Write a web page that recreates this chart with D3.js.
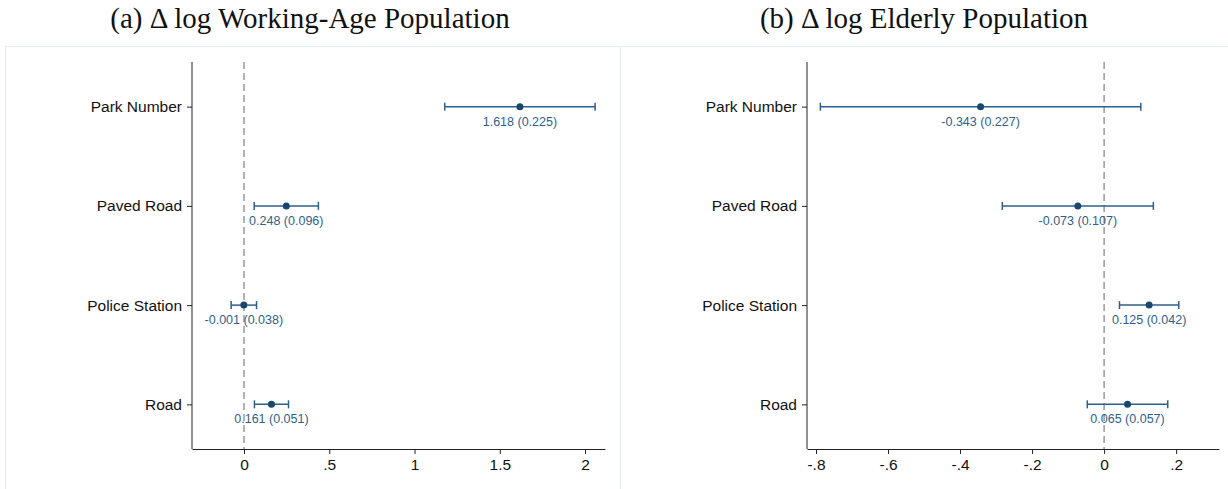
<!DOCTYPE html>
<html><head><meta charset="utf-8">
<script src="https://cdn.jsdelivr.net/npm/d3@7"></script>
<style>body{margin:0;background:#fff;} svg{display:block;}</style>
</head><body>
<svg id="c" width="1228" height="489"></svg>
<script>
const categories = ["Park Number", "Paved Road", "Police Station", "Road"];
const coefWorking = [1.618, 0.248, -0.001, 0.161];
const seWorking = [0.225, 0.096, 0.038, 0.051];
const coefElderly = [-0.343, -0.073, 0.125, 0.065];
const seElderly = [0.227, 0.107, 0.042, 0.057];
const ticksWorking = [0, 0.5, 1, 1.5, 2];
const ticksElderly = [-0.8, -0.6, -0.4, -0.2, 0, 0.2];
const titles = ["(a) \u0394\u2009log Working-Age Population", "(b) \u0394\u2009log Elderly Population"];

const svg = d3.select("#c");
const fmtTick = v => v === 0 ? "0" : String(+v.toFixed(2)).replace(/^(-?)0\./, "$1.");
const fmt3 = v => (v < 0 ? "-" : "") + Math.abs(v).toFixed(3);

function panel(cfg) {
  const g = svg.append("g");
  g.append("rect").attr("x", cfg.bx).attr("y", 46.5).attr("width", cfg.bw).attr("height", 460)
    .attr("fill", "#fff").attr("stroke", "#e6edf1").attr("stroke-width", 1);
  g.append("text").attr("x", cfg.tx).attr("y", 28).attr("text-anchor", "middle")
    .attr("font-family", "'Liberation Serif', 'DejaVu Serif', serif").attr("font-size", 29)
    .attr("fill", "#111").text(cfg.title);

  const x = d3.scaleLinear().domain(cfg.domain).range([cfg.x0, cfg.x1]);
  const y = d3.scalePoint().domain(categories).range([62, 449]).padding(0.45);

  const xa = g.append("g").attr("transform", "translate(0,449)")
    .call(d3.axisBottom(x).tickValues(cfg.ticks).tickSize(5).tickPadding(5).tickFormat(fmtTick).tickSizeOuter(0));
  xa.select(".domain").attr("stroke", "#222");
  xa.selectAll(".tick line").attr("stroke", "#222");
  xa.selectAll("text").attr("font-family", "'Liberation Sans', Arial, sans-serif").attr("font-size", 15.5).attr("fill", "#111");

  const ya = g.append("g").attr("transform", `translate(${cfg.x0},0)`)
    .call(d3.axisLeft(y).tickSize(5).tickPadding(5).tickSizeOuter(0));
  ya.select(".domain").attr("d", `M0,62V449`).attr("stroke", "#222");
  ya.selectAll(".tick line").attr("stroke", "#222");
  ya.selectAll("text").attr("font-family", "'Liberation Sans', Arial, sans-serif").attr("font-size", 15.5).attr("fill", "#111");

  g.append("line").attr("x1", x(0)).attr("x2", x(0)).attr("y1", 62).attr("y2", 449)
    .attr("stroke", "#999").attr("stroke-width", 1.5).attr("stroke-dasharray", "7,4");

  const data = categories.map((c, i) => ({c, b: cfg.coef[i], se: cfg.se[i]}));
  const col = "#1a476f", lcol = "#2f5f8a";
  const rows = g.selectAll(".row").data(data).enter().append("g");
  rows.append("line").attr("x1", d => x(d.b - 1.96 * d.se)).attr("x2", d => x(d.b + 1.96 * d.se))
    .attr("y1", d => y(d.c)).attr("y2", d => y(d.c)).attr("stroke", lcol).attr("stroke-width", 1.5);
  [-1, 1].forEach(s => {
    rows.append("line").attr("x1", d => x(d.b + s * 1.96 * d.se)).attr("x2", d => x(d.b + s * 1.96 * d.se))
      .attr("y1", d => y(d.c) - 4).attr("y2", d => y(d.c) + 4).attr("stroke", lcol).attr("stroke-width", 1.5);
  });
  rows.append("circle").attr("cx", d => x(d.b)).attr("cy", d => y(d.c)).attr("r", 3.5).attr("fill", col);
  rows.append("text").attr("x", d => x(d.b)).attr("y", d => y(d.c) + 19).attr("text-anchor", "middle")
    .attr("font-family", "'Liberation Sans', Arial, sans-serif").attr("font-size", 12.5).attr("fill", "#2f5f8a")
    .text(d => fmt3(d.b) + " (" + fmt3(d.se) + ")");
}

panel({bx: 5.5, bw: 615, tx: 310, title: titles[0], domain: [-0.305, 2.117], x0: 192, x1: 605,
  ticks: ticksWorking, coef: coefWorking, se: seWorking});
panel({bx: 620.5, bw: 620, tx: 924, title: titles[1], domain: [-0.825, 0.319], x0: 807, x1: 1219,
  ticks: ticksElderly, coef: coefElderly, se: seElderly});
</script>
</body></html>
